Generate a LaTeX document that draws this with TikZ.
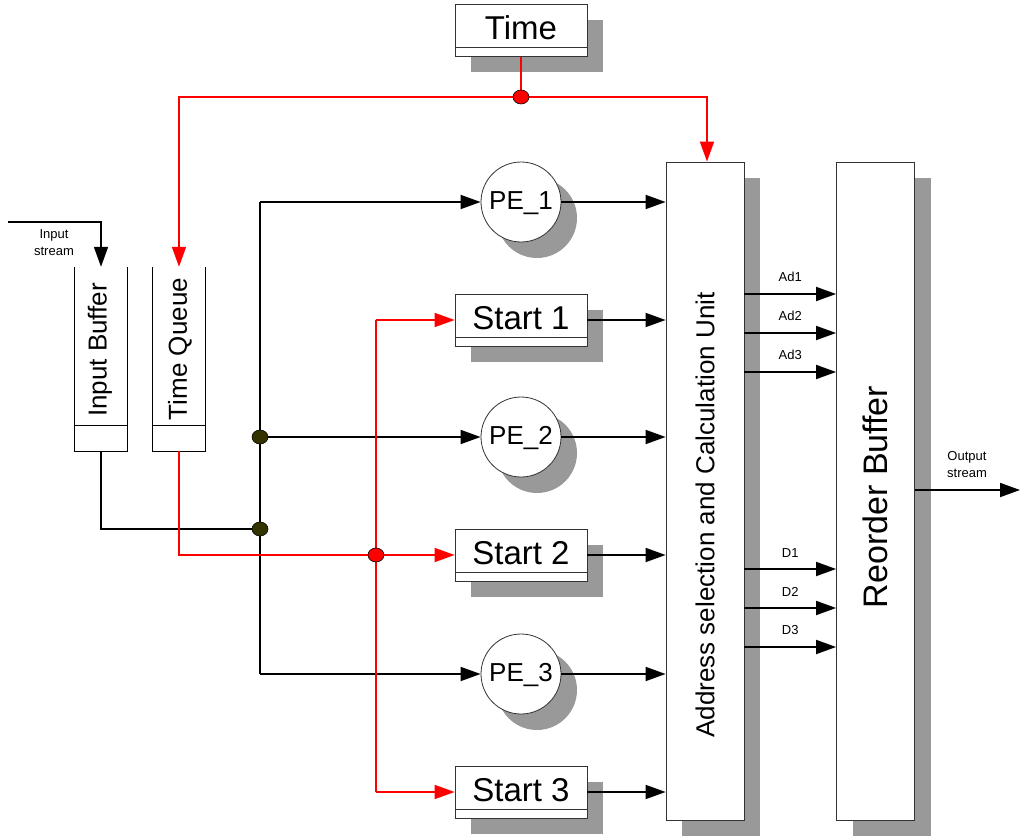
\documentclass[tikz,border=0pt]{standalone}
\usepackage{fontspec}
\setmainfont{Liberation Sans}
\usetikzlibrary{arrows.meta,shadows,shapes.geometric}
\definecolor{shadowgray}{RGB}{153,153,153}
\definecolor{dotolive}{RGB}{51,51,0}
\definecolor{edgegray}{RGB}{51,51,51}
\begin{document}
\begin{tikzpicture}[x=1pt,y=-1pt,
  shad/.style={drop shadow={shadow xshift=16pt,shadow yshift=-16pt,fill=shadowgray,opacity=1}},
  labbox/.style={draw=edgegray,line width=0.8pt,fill=white,shad,minimum width=132pt,minimum height=52pt,inner sep=0pt,font=\fontsize{33}{36}\selectfont,text height=23pt,text depth=5pt},
  pe/.style={circle,draw=edgegray,line width=0.8pt,fill=white,shad,minimum size=80pt,inner sep=0pt,font=\fontsize{26}{30}\selectfont,text height=19pt,text depth=4pt},
  tall/.style={draw=edgegray,line width=0.8pt,fill=white,shad,minimum width=78pt,minimum height=658pt,inner sep=0pt},
  queue/.style={minimum width=52pt,minimum height=184pt,inner sep=0pt},
  qline/.style={black,line width=1.2pt},
  vtext/.style={rotate=90,font=\fontsize{26}{28}\selectfont,inner sep=0pt},
  small/.style={font=\fontsize{13}{17}\selectfont,align=center,inner sep=0pt},
  wire/.style={line width=1.8pt,black},
  rwire/.style={line width=1.8pt,red},
  arr/.style={-{Triangle[length=20pt,width=14pt]}},
  bdot/.style={ellipse,draw=black,line width=0.6pt,fill=dotolive,minimum width=16pt,minimum height=14pt,inner sep=0pt},
  rdot/.style={ellipse,draw=black,line width=0.6pt,fill=red,minimum width=16pt,minimum height=14pt,inner sep=0pt},
]
\useasboundingbox (0,0) rectangle (1023,837);

% boxes
\node[labbox] (time) at (521,30.5) {Time};
\node[labbox] (s1) at (521,320) {Start 1};
\node[labbox] (s2) at (521,555) {Start 2};
\node[labbox] (s3) at (521,792) {Start 3};
\foreach \n in {time,s1,s2,s3}
  \draw[edgegray,line width=0.8pt] ([yshift=9pt]\n.south west) -- ([yshift=9pt]\n.south east);
\node[pe] (pe1) at (521,202) {PE\_1};
\node[pe] (pe2) at (521,437) {PE\_2};
\node[pe] (pe3) at (521,674) {PE\_3};
\node[tall] (ascu) at (705,491) {};
\node[vtext] (ascut) at (705,515) {Address selection and Calculation Unit};
\node[tall] (rb) at (875.5,491) {};
\node[vtext,font=\fontsize{34}{36}\selectfont] (rbt) at (875,497) {Reorder Buffer};

% queues
\node[queue] (ib) at (101,359) {};
\node[queue] (tq) at (179,359) {};
\foreach \n in {ib,tq}{
  \draw[qline] (\n.north west) -- (\n.south west) -- (\n.south east) -- (\n.north east);
  \draw[qline] ([yshift=26pt]\n.south west) -- ([yshift=26pt]\n.south east);
}
\node[vtext] (ibt) at (100,350) {Input Buffer};
\node[vtext] (tqt) at (180,349) {Time Queue};

% input stream
\coordinate (isin) at (8,222);
\draw[wire,arr] (isin) -| (ib.north);
\node[small] (ist) at (54,243) {Input\\stream};

% red time distribution
\coordinate (tdc) at (521,97);
\draw[rwire] (time.south) -- (tdc);
\draw[rwire,arr] (tdc) -| (tq.north);
\draw[rwire,arr] (tdc) -| ([xshift=2pt]ascu.north);

% black tree
\coordinate (bt) at (260,202);
\coordinate (j1) at (260,437);
\coordinate (j2) at (260,529);
\coordinate (bb) at (260,674);
\draw[wire] (bt) -- (bb);
\draw[wire,arr] (bt) -- (pe1.west);
\draw[wire,arr] (j1) -- (pe2.west);
\draw[wire,arr] (bb) -- (pe3.west);
\draw[wire] (ib.south) |- (j2);

% red tree
\coordinate (rt) at (376,320);
\coordinate (rd) at (376,555);
\coordinate (rbot) at (376,792);
\draw[rwire] (rt) -- (rbot);
\draw[rwire,arr] (rt) -- (s1.west);
\draw[rwire,arr] (rbot) -- (s3.west);
\draw[rwire,arr] (tq.south) |- (s2.west);

% outputs into ASCU
\foreach \n in {pe1,s1,pe2,s2,pe3,s3}
  \draw[wire,arr] (\n.east) -- (\n.east -| ascu.west);

% ASCU -> reorder buffer
\foreach \y/\t in {294/Ad1,333/Ad2,372/Ad3,569/D1,608/D2,647/D3}{
  \coordinate (c\t) at (790,\y);
  \draw[wire,arr] (ascu.east |- c\t) -- (rb.west |- c\t)
    node[small,midway,above=11pt] (l\t) {\t};
}

% output stream
\coordinate (oe) at (1020,490);
\draw[wire,arr] (rb.east |- oe) -- (oe);
\node[small] (ost) at (967,465) {Output\\stream};

% junction dots
\node[bdot] (jd1) at (j1) {};
\node[bdot] (jd2) at (j2) {};
\node[rdot] (rdd) at (rd) {};
\node[rdot] (td) at (tdc) {};
\end{tikzpicture}
\end{document}
